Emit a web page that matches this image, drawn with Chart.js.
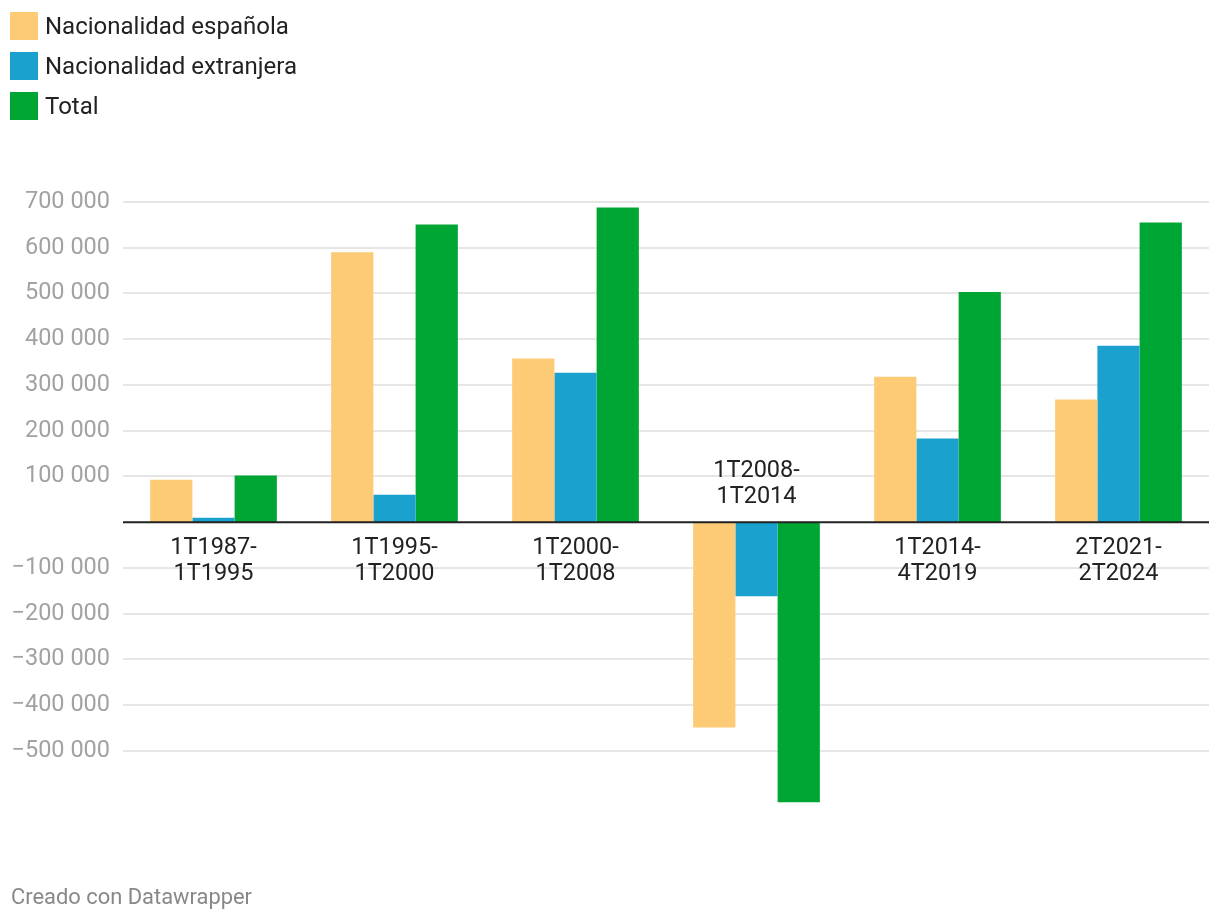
<!DOCTYPE html>
<html>
<head>
<meta charset="utf-8">
<script src="https://cdn.jsdelivr.net/npm/chart.js"></script>
<style>
  body { margin: 0; background: #fff; font-family: Roboto, sans-serif; }
  #wrap { position: relative; width: 1220px; height: 922px; }
  #myChart { position: absolute; left: 0; top: 0; }
  .legend { position: absolute; left: 10px; top: 12px; }
  .legend-item { display: flex; align-items: center; height: 28px; margin-bottom: 12px; font-size: 24px; color: #222; }
  .legend-item span.sw { width: 28px; height: 28px; margin-right: 7px; display: inline-block; }
  .footer { position: absolute; left: 11px; top: 884px; font-size: 21.9px; color: #888; }
</style>
</head>
<body>
<div id="wrap">
  <canvas id="myChart" width="1220" height="922"></canvas>
  <div class="legend" id="legend"></div>
  <div class="footer">Creado con Datawrapper</div>
</div>
<script>
// Дані
const categories = [
    ['1T1987-', '1T1995'],
    ['1T1995-', '1T2000'],
    ['1T2000-', '1T2008'],
    ['1T2008-', '1T2014'],
    ['1T2014-', '4T2019'],
    ['2T2021-', '2T2024'],
];
const seriesNames = ['Nacionalidad española', 'Nacionalidad extranjera', 'Total'];
const espanola = [93000, 590000, 358000, -449000, 318000, 268000];
const extranjera = [10000, 60000, 327000, -162000, 183000, 386000];
const total = [102000, 651000, 688000, -612000, 503000, 655000];
const yTicks = [700000, 600000, 500000, 400000, 300000, 200000, 100000,
    -100000, -200000, -300000, -400000, -500000];

const colors = ['#fdca76', '#1aa1cd', '#00a633'];

// Легенда
const legendEl = document.getElementById('legend');
seriesNames.forEach((name, i) => {
    const item = document.createElement('div');
    item.className = 'legend-item';
    item.innerHTML = `<span class="sw" style="background:${colors[i]}"></span>${name}`;
    legendEl.appendChild(item);
});

function fmt(v) {
    const s = Math.abs(v).toString().replace(/\B(?=(\d{3})+(?!\d))/g, ' ');
    return (v < 0 ? '\u2212' : '') + s;
}

// Підписи категорій та нульова лінія
const catLabels = {
    id: 'catLabels',
    afterDatasetsDraw(chart) {
        const {ctx, chartArea, scales} = chart;
        const y0 = scales.y.getPixelForValue(0);
        ctx.save();
        ctx.strokeStyle = '#222';
        ctx.lineWidth = 2;
        ctx.beginPath();
        ctx.moveTo(chartArea.left, y0);
        ctx.lineTo(chartArea.right, y0);
        ctx.stroke();

        ctx.font = '23.5px Roboto';
        ctx.fillStyle = '#222';
        ctx.textAlign = 'center';
        ctx.textBaseline = 'middle';
        categories.forEach((lines, i) => {
            const x = scales.x.getPixelForValue(i);
            const neg = total[i] < 0;
            lines.forEach((line, j) => {
                const y = neg ? y0 - 51.5 + j * 26.5 : y0 + 25.5 + j * 26.5;
                ctx.fillText(line, x, y);
            });
        });
        ctx.restore();
    }
};

const ctx = document.getElementById('myChart').getContext('2d');

const myChart = new Chart(ctx, {
    type: 'bar',
    data: {
        labels: categories,
        datasets: [espanola, extranjera, total].map((d, i) => ({
            label: seriesNames[i],
            data: d,
            backgroundColor: colors[i],
            borderWidth: 0,
            categoryPercentage: 0.7,
            barPercentage: 1.0,
        }))
    },
    options: {
        responsive: false,
        animation: false,
        layout: {
            padding: { top: 202, bottom: 118, left: 0, right: 11 }
        },
        plugins: {
            legend: { display: false },
            tooltip: { enabled: false },
        },
        scales: {
            x: {
                display: false,
            },
            y: {
                min: -616000,
                max: 700000,
                border: { display: false },
                grid: {
                    color: '#e6e6e6',
                    lineWidth: 2,
                    drawTicks: false,
                },
                afterBuildTicks: (scale) => {
                    scale.ticks = yTicks.map(v => ({ value: v }));
                },
                afterFit: (scale) => {
                    scale.width = 123;
                },
                ticks: {
                    padding: 13,
                    color: '#a2a2a2',
                    font: { family: 'Roboto', size: 23.5 },
                    callback: (v) => fmt(v),
                }
            }
        }
    },
    plugins: [catLabels],
});
</script>
</body>
</html>
